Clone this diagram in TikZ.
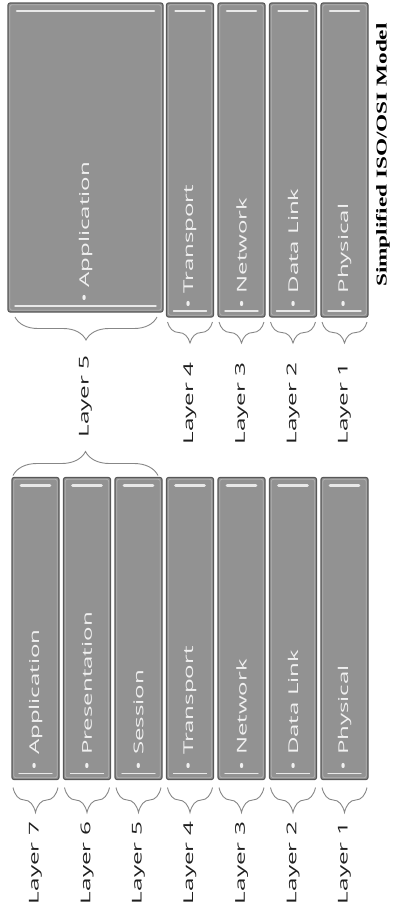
\documentclass[tikz,border=0pt]{standalone}
\usepackage{fontspec}
\setmainfont{Open Sans}
\newfontfamily\titlefont{Liberation Serif}
\usetikzlibrary{positioning,decorations.pathreplacing}
\definecolor{boxgray}{RGB}{146,146,146}
\definecolor{boxedge}{RGB}{88,88,88}
\definecolor{boxinner}{RGB}{178,178,178}
\definecolor{boxlight}{RGB}{232,232,232}
\definecolor{boxtext}{RGB}{240,240,240}
\definecolor{bracegray}{RGB}{135,135,135}
\definecolor{labelgray}{RGB}{30,30,30}

\begin{document}
\begin{tikzpicture}[
                x=1pt, y=-1pt,
                font=\fontsize{13.5}{15}\selectfont,
                layerbox/.style={rectangle, draw=boxedge, line width=1.1pt, fill=boxgray, rounded corners=2pt, minimum width=47pt, inner sep=0pt, outer sep=0pt,
                    path picture={
                        \draw[boxinner, line width=0.8pt] ([shift={(1.8pt,-1.8pt)}]path picture bounding box.north west) rectangle ([shift={(-1.8pt,1.8pt)}]path picture bounding box.south east);
                        \draw[boxlight, line width=2.6pt, line cap=round] ([shift={(9pt,-8pt)}]path picture bounding box.north west) -- ([shift={(-9pt,-8pt)}]path picture bounding box.north east);
                        \draw[boxlight, line width=1.4pt, line cap=round] ([shift={(7pt,6pt)}]path picture bounding box.south west) -- ([shift={(-7pt,6pt)}]path picture bounding box.south east);
                    }},
                boxtxt/.style={rotate=90, xscale=1.78, anchor=west, inner sep=0pt, text=boxtext},
                laytxt/.style={rotate=90, xscale=1.8, anchor=east, inner sep=0pt, text=labelgray},
                titletxt/.style={rotate=90, xscale=1.55, inner sep=0pt, text=black, font=\titlefont\bfseries\fontsize{15}{18}\selectfont},
                brc/.style={decorate, decoration={brace, amplitude=#1}, draw=bracegray, line width=0.9pt},
            ]
            \useasboundingbox (0,0) rectangle (392,906);

            \node[layerbox, minimum width=155pt, minimum height=309pt] (uapp) at (85.5,157.5) {};
            \node[layerbox, minimum height=314pt] (utra) at (190,160) {};
            \node[layerbox, minimum height=314pt, right=4.5pt of utra] (unet) {};
            \node[layerbox, minimum height=314pt, right=4.5pt of unet] (udat) {};
            \node[layerbox, minimum height=314pt, right=4.5pt of udat] (uphy) {};

            \node[layerbox, minimum height=302pt] (lapp) at (35.5,628.5) {};
            \node[layerbox, minimum height=302pt, right=4.5pt of lapp] (lpre) {};
            \node[layerbox, minimum height=302pt, right=4.5pt of lpre] (lses) {};
            \node[layerbox, minimum height=302pt, right=4.5pt of lses] (ltra) {};
            \node[layerbox, minimum height=302pt, right=4.5pt of ltra] (lnet) {};
            \node[layerbox, minimum height=302pt, right=4.5pt of lnet] (ldat) {};
            \node[layerbox, minimum height=302pt, right=4.5pt of ldat] (lphy) {};

            \node[boxtxt] (tuapp) at ([yshift=9pt]uapp.south) {• Application};
            \node[boxtxt] (tutra) at ([yshift=8pt]utra.south) {• Transport};
            \node[boxtxt] (tunet) at ([yshift=8pt]unet.south) {• Network};
            \node[boxtxt] (tudat) at ([yshift=8pt]udat.south) {• Data Link};
            \node[boxtxt] (tuphy) at ([yshift=8pt]uphy.south) {• Physical};

            \node[boxtxt] (tlapp) at ([yshift=9pt]lapp.south) {• Application};
            \node[boxtxt] (tlpre) at ([yshift=9pt]lpre.south) {• Presentation};
            \node[boxtxt] (tlses) at ([yshift=9pt]lses.south) {• Session};
            \node[boxtxt] (tltra) at ([yshift=9pt]ltra.south) {• Transport};
            \node[boxtxt] (tlnet) at ([yshift=9pt]lnet.south) {• Network};
            \node[boxtxt] (tldat) at ([yshift=9pt]ldat.south) {• Data Link};
            \node[boxtxt] (tlphy) at ([yshift=9pt]lphy.south) {• Physical};

            \draw[brc=23pt] ([xshift=-6pt,yshift=-5pt]uapp.south east) -- ([xshift=7pt,yshift=-5pt]uapp.south west);
            \draw[brc=21pt] ([xshift=-1pt,yshift=-5pt]utra.south east) -- ([xshift=1pt,yshift=-5pt]utra.south west);
            \draw[brc=21pt] ([xshift=-1pt,yshift=-5pt]unet.south east) -- ([xshift=1pt,yshift=-5pt]unet.south west);
            \draw[brc=21pt] ([xshift=-1pt,yshift=-5pt]udat.south east) -- ([xshift=1pt,yshift=-5pt]udat.south west);
            \draw[brc=21pt] ([xshift=-1pt,yshift=-5pt]uphy.south east) -- ([xshift=1pt,yshift=-5pt]uphy.south west);

            \draw[brc=24pt] ([xshift=1pt,yshift=2pt]lapp.north west) -- ([xshift=-4pt,yshift=2pt]lses.north east);

            \draw[brc=25pt] ([xshift=-1pt,yshift=-8pt]lapp.south east) -- ([xshift=1pt,yshift=-8pt]lapp.south west);
            \draw[brc=25pt] ([xshift=-1pt,yshift=-8pt]lpre.south east) -- ([xshift=1pt,yshift=-8pt]lpre.south west);
            \draw[brc=25pt] ([xshift=-1pt,yshift=-8pt]lses.south east) -- ([xshift=1pt,yshift=-8pt]lses.south west);
            \draw[brc=25pt] ([xshift=-1pt,yshift=-8pt]ltra.south east) -- ([xshift=1pt,yshift=-8pt]ltra.south west);
            \draw[brc=25pt] ([xshift=-1pt,yshift=-8pt]lnet.south east) -- ([xshift=1pt,yshift=-8pt]lnet.south west);
            \draw[brc=25pt] ([xshift=-1pt,yshift=-8pt]ldat.south east) -- ([xshift=1pt,yshift=-8pt]ldat.south west);
            \draw[brc=25pt] ([xshift=-1pt,yshift=-8pt]lphy.south east) -- ([xshift=1pt,yshift=-8pt]lphy.south west);

            \node[laytxt] (nu5) at ([yshift=-43pt]uapp.south) {Layer 5};
            \node[laytxt] (nu4) at ([yshift=-45pt]utra.south) {Layer 4};
            \node[laytxt] (nu3) at ([yshift=-45pt]unet.south) {Layer 3};
            \node[laytxt] (nu2) at ([yshift=-45pt]udat.south) {Layer 2};
            \node[laytxt] (nu1) at ([yshift=-45pt]uphy.south) {Layer 1};

            \node[laytxt] (nl7) at ([yshift=-42pt]lapp.south) {Layer 7};
            \node[laytxt] (nl6) at ([yshift=-42pt]lpre.south) {Layer 6};
            \node[laytxt] (nl5) at ([yshift=-42pt]lses.south) {Layer 5};
            \node[laytxt] (nl4) at ([yshift=-42pt]ltra.south) {Layer 4};
            \node[laytxt] (nl3) at ([yshift=-42pt]lnet.south) {Layer 3};
            \node[laytxt] (nl2) at ([yshift=-42pt]ldat.south) {Layer 2};
            \node[laytxt] (nl1) at ([yshift=-42pt]lphy.south) {Layer 1};

            \node[titletxt] (ttl) at (383,155) {Simplified ISO/OSI Model};
        \end{tikzpicture}
\end{document}
